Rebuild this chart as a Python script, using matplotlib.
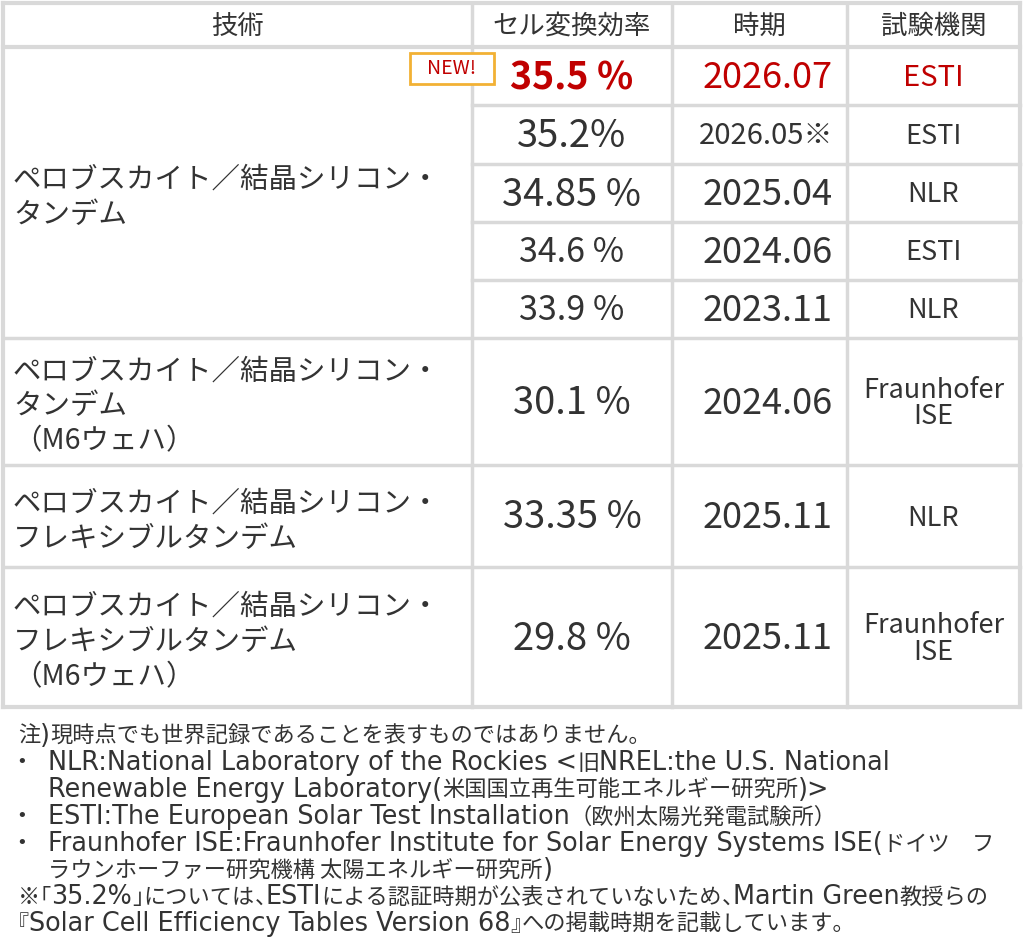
import matplotlib
matplotlib.use("Agg")
import matplotlib.pyplot as plt
from matplotlib.patches import Rectangle

plt.rcParams['font.family'] = ['Noto Sans CJK JP', 'DejaVu Sans']

# table contents
headers = ["技術", "セル変換効率", "時期", "試験機関"]
techs = ["ペロブスカイト／結晶シリコン・\nタンデム",
         "ペロブスカイト／結晶シリコン・\nタンデム\n（M6ウェハ）",
         "ペロブスカイト／結晶シリコン・\nフレキシブルタンデム",
         "ペロブスカイト／結晶シリコン・\nフレキシブルタンデム\n（M6ウェハ）"]
tech_rows = [5, 1, 1, 1]
efficiency = ["35.5 %", "35.2%", "34.85 %", "34.6 %", "33.9 %", "30.1 %", "33.35 %", "29.8 %"]
period = ["2026.07", "2026.05※", "2025.04", "2024.06", "2023.11", "2024.06", "2025.11", "2025.11"]
lab = ["ESTI", "ESTI", "NLR", "ESTI", "NLR", "Fraunhofer\nISE", "NLR", "Fraunhofer\nISE"]
is_new = [True, False, False, False, False, False, False, False]

notes = [
    ("", "注)現時点でも世界記録であることを表すものではありません。"),
    ("•", "NLR:National Laboratory of the Rockies <旧NREL:the U.S. National"),
    ("", "Renewable Energy Laboratory(米国国立再生可能エネルギー研究所)>"),
    ("•", "ESTI:The European Solar Test Installation（欧州太陽光発電試験所）"),
    ("•", "Fraunhofer ISE:Fraunhofer Institute for Solar Energy Systems ISE(ドイツ　フ"),
    ("", "ラウンホーファー研究機構 太陽エネルギー研究所)"),
    ("", "※「35.2%」については、ESTIによる認証時期が公表されていないため、Martin Green教授らの"),
    ("", "『Solar Cell Efficiency Tables Version 68』への掲載時期を記載しています。"),
]
note_indent = [False, True, True, True, True, True, False, False]

# layout (pixels)
col_edges = [3, 472, 672, 847, 1020]
header_bottom = 47
row_edges = [47, 105, 164, 222, 280, 338, 465, 567, 707]
eff_size = [27, 27.5, 27.5, 24.5, 24.5, 27.5, 27.5, 27.5]
date_size = [26, 21, 26, 26, 26, 26, 26, 26]

TXT = "#333333"
RED = "#c00000"
GRID = "#d9d9d9"

fig = plt.figure(figsize=(10.24, 9.5), dpi=100)
ax = fig.add_axes([0, 0, 1, 1])
ax.set_xlim(0, 1024)
ax.set_ylim(950, 0)
ax.axis('off')
renderer = fig.canvas.get_renderer()

# grid lines
top, bottom = 3, row_edges[-1]
for x in [col_edges[0], col_edges[-1]]:
    ax.plot([x, x], [top, bottom], color=GRID, lw=3, solid_capstyle='projecting')
for x in col_edges[1:-1]:
    ax.plot([x, x], [top, bottom], color=GRID, lw=2.5)
ax.plot([col_edges[0], col_edges[-1]], [top, top], color=GRID, lw=3)
ax.plot([col_edges[0], col_edges[-1]], [header_bottom, header_bottom], color=GRID, lw=3)
ax.plot([col_edges[0], col_edges[-1]], [bottom, bottom], color=GRID, lw=3)

# tech group boundaries span full width, sub-rows only the right columns
group_ends = []
i = 0
for n in tech_rows:
    i += n
    group_ends.append(i)
for k in range(1, len(row_edges) - 1):
    x0 = col_edges[0] if k in group_ends else col_edges[1]
    ax.plot([x0, col_edges[-1]], [row_edges[k], row_edges[k]], color=GRID, lw=2.5)

# header
for j, h in enumerate(headers):
    cx = (col_edges[j] + col_edges[j + 1]) / 2
    ax.text(cx, (top + header_bottom) / 2 + 1, h, ha='center', va='center',
            fontsize=19, color=TXT)

# tech column
start = 0
for t, n in zip(techs, tech_rows):
    cy = (row_edges[start] + row_edges[start + n]) / 2 + 5
    ax.text(13, cy, t, ha='left', va='center', fontsize=20.5, color=TXT,
            linespacing=1.22)
    start += n

# data columns
for r in range(len(efficiency)):
    cy = (row_edges[r] + row_edges[r + 1]) / 2
    c = RED if is_new[r] else TXT
    w = 'bold' if is_new[r] else 'normal'
    ax.text((col_edges[1] + col_edges[2]) / 2, cy + 2, efficiency[r], ha='center',
            va='center', fontsize=eff_size[r], color=c, fontweight=w)
    ax.text(833, cy + 2, period[r], ha='right', va='center',
            fontsize=date_size[r], color=c)
    ax.text((col_edges[3] + col_edges[4]) / 2, cy + 2, lab[r], ha='center', va='center',
            fontsize=19.5 if not is_new[r] else 21, color=c, linespacing=1.0)
    if is_new[r]:
        ax.add_patch(Rectangle((410, row_edges[r] + 6), 84, 31, facecolor='white',
                               edgecolor='#f2b134', lw=2, zorder=3))
        ax.text(452, row_edges[r] + 21.5, "NEW!", ha='center', va='center',
                fontsize=14, color=RED, zorder=4)


# footnotes: latin runs are set larger than kana/kanji, like the original font,
# and some punctuation is set half width
OPEN_TIGHT = "「『"
CLOSE_TIGHT = "」』、"


def split_runs(s):
    runs = []
    for ch in s:
        if ch in OPEN_TIGHT or ch in CLOSE_TIGHT:
            runs.append(['p', ch])
            continue
        kind = 'c' if ord(ch) >= 0x2000 else 'l'
        if ch == ' ' and runs:
            kind = runs[-1][0]
        if runs and runs[-1][0] == kind:
            runs[-1][1] += ch
        else:
            runs.append([kind, ch])
    return runs


def mixed_text(x, y, s):
    for kind, part in split_runs(s):
        if kind == 'l':
            t = ax.text(x, y, part, ha='left', va='baseline', fontsize=18.4,
                        color=TXT, family='DejaVu Sans')
            x = t.get_window_extent(renderer).x1
        elif kind == 'c':
            t = ax.text(x, y, part, ha='left', va='baseline', fontsize=16,
                        color=TXT, family='Noto Sans CJK JP')
            x = t.get_window_extent(renderer).x1
        else:
            half = 16 * 100 / 72 / 2
            x0 = x - half if part in OPEN_TIGHT else x
            ax.text(x0, y, part, ha='left', va='baseline', fontsize=16,
                    color=TXT, family='Noto Sans CJK JP')
            x = x0 + 2 * half if part in OPEN_TIGHT else x + half


y = 743
for (bullet, line), ind in zip(notes, note_indent):
    if bullet:
        ax.text(22, y - 8, bullet, ha='center', va='center', fontsize=13,
                color=TXT, family='DejaVu Sans')
    mixed_text(48 if ind else 18, y, line)
    y += 26.9

fig.savefig("out.png", dpi=100, facecolor='white')
